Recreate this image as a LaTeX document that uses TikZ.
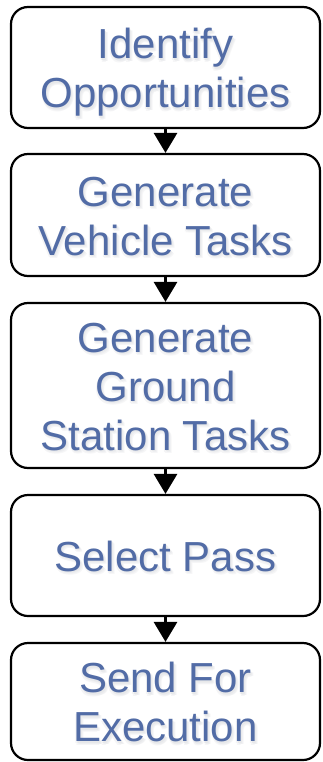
\documentclass[tikz,border=0pt]{standalone}
\usepackage{fontspec}
\setmainfont{Liberation Sans}
\usetikzlibrary{arrows.meta}
\definecolor{labelblue}{RGB}{82,108,166}
\definecolor{shadowtone}{RGB}{70,78,95}
% label lines stacked on a fixed baseline grid (first row is the box's baseline)
\newcommand\labelrows[1]{\begin{tabular}[t]{@{}c@{}}#1\end{tabular}}
% one faint, offset copy of a label, taking no room
\newcommand\glowcopy[4]{\rlap{\hspace*{#1}\raisebox{-#2}[0pt][0pt]{\textcolor{shadowtone!#3}{\labelrows{#4}}}}}
% label with a soft drop shadow beneath it
\newcommand\glowlabel[1]{%
  \glowcopy{0.5pt}{3.5pt}{5}{#1}\glowcopy{3pt}{3pt}{5}{#1}\glowcopy{-0.5pt}{2pt}{6}{#1}%
  \glowcopy{2pt}{2.5pt}{9}{#1}\glowcopy{1pt}{1.5pt}{13}{#1}\labelrows{#1}}
\tikzset{
  stepbox/.style={draw=black, line width=2.2pt, rounded corners=17pt,
    minimum width=309pt, inner sep=0pt, text=labelblue, text height=46.3pt,
    font=\fontsize{42}{49}\selectfont},
  flow/.style={line width=3pt, -{Triangle[width=23pt,length=20pt]}}
}
\begin{document}
\begin{tikzpicture}[x=1pt,y=-1pt]
  \fill[white] (0,0) rectangle (322,762);
  \useasboundingbox (0,0) rectangle (322,762);

  % process steps
  \node[stepbox, minimum height=121pt] (b1) at (165.5,67.5) {\glowlabel{Identify\\Opportunities}};
  \node[stepbox, minimum height=122pt] (b2) at (165.5,215) {\glowlabel{Generate\\Vehicle Tasks}};
  \node[stepbox, minimum height=165pt] (b3) at (165.5,385.5) {\glowlabel{Generate\\Ground\\Station Tasks}};
  \node[stepbox, minimum height=121pt] (b4) at (165.5,555.5) {\glowlabel{Select Pass}};
  \node[stepbox, minimum height=117pt] (b5) at (165.5,701.5) {\glowlabel{Send For\\Execution}};

  % connectors
  \draw[flow] (b1) -- (b2);
  \draw[flow] (b2) -- (b3);
  \draw[flow] (b3) -- (b4);
  \draw[flow] (b4) -- (b5);
\end{tikzpicture}
\end{document}
